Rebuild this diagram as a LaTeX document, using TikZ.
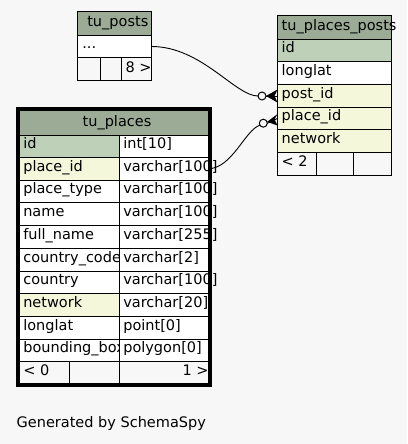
\documentclass[tikz,border=0pt]{standalone}
\usepackage{fontspec}
\setmainfont{DejaVu Sans}
\definecolor{hdr}{HTML}{9BAB96}
\definecolor{pk}{HTML}{BED1B8}
\definecolor{idx}{HTML}{F4F7DA}
\definecolor{bg}{HTML}{F7F7F7}
\tikzset{
  cellbox/.style={rectangle,draw=black,line width=1pt,inner sep=0pt,outer sep=0pt,anchor=north west},
  txt/.style={inner sep=0pt,outer sep=0pt,font=\fontsize{14.5}{17}\selectfont},
  conn/.style={draw=black,line width=0.9pt},
  odot/.style={circle,draw=black,line width=1pt,fill=bg,minimum size=8pt,inner sep=0pt,outer sep=0pt},
}
\newcommand\plrow[6]{%
  \node[cellbox,fill=#6,minimum width=100pt,minimum height=#3pt] (pl-#1-a) at (19.5,#2) {};
  \node[txt,anchor=base west] (pl-#1-at) at (23.3,#2+#3-9) {#4};
  \node[cellbox,fill=white,minimum width=88.5pt,minimum height=#3pt] (pl-#1-b) at (119.5,#2) {};
  \node[txt,anchor=base west] (pl-#1-bt) at (123.3,#2+#3-9) {#5};
}
\begin{document}
\begin{tikzpicture}[x=1pt,y=-1pt]
\fill[bg] (0,0) rectangle (407,444);
\useasboundingbox (0,0) rectangle (407,444);

% ---------- tu_posts ----------
\node[cellbox,fill=hdr,minimum width=74pt,minimum height=24pt] (po-h) at (77.5,11.5) {};
\node[txt,anchor=base] (po-ht) at (117.8,26.7) {tu\_posts};
\node[cellbox,fill=white,minimum width=74pt,minimum height=22pt] (po-dots) at (77.5,35.5) {};
\node[txt,anchor=base west] (po-dotst) at (82.3,48.3) {...};
\node[cellbox,minimum width=23pt,minimum height=23pt] (po-f1) at (77.5,57.5) {};
\node[cellbox,minimum width=21pt,minimum height=23pt] (po-f2) at (100.5,57.5) {};
\node[cellbox,minimum width=30pt,minimum height=23pt] (po-f3) at (121.5,57.5) {};
\node[txt,anchor=base west] (po-f3t) at (125.5,72) {8 >};

% ---------- tu_places_posts ----------
\node[cellbox,fill=hdr,minimum width=114pt,minimum height=24pt] (pp-h) at (277.5,15.5) {};
\node[txt,anchor=base west] (pp-ht) at (281.7,30.5) {tu\_places\_posts};
\node[cellbox,fill=pk,minimum width=114pt,minimum height=22pt] (pp-id) at (277.5,39.5) {};
\node[txt,anchor=base west] (pp-idt) at (281.7,52.5) {id};
\node[cellbox,fill=white,minimum width=114pt,minimum height=23pt] (pp-ll) at (277.5,61.5) {};
\node[txt,anchor=base west] (pp-llt) at (281.7,75.5) {longlat};
\node[cellbox,fill=idx,minimum width=114pt,minimum height=23pt] (pp-post) at (277.5,84.5) {};
\node[txt,anchor=base west] (pp-postt) at (281.7,98.5) {post\_id};
\node[cellbox,fill=idx,minimum width=114pt,minimum height=22pt] (pp-place) at (277.5,107.5) {};
\node[txt,anchor=base west] (pp-placet) at (281.7,120.5) {place\_id};
\node[cellbox,fill=idx,minimum width=114pt,minimum height=23pt] (pp-net) at (277.5,129.5) {};
\node[txt,anchor=base west] (pp-nett) at (281.7,143.5) {network};
\node[cellbox,minimum width=39pt,minimum height=22.5pt] (pp-f1) at (277.5,152.5) {};
\node[cellbox,minimum width=37pt,minimum height=22.5pt] (pp-f2) at (316.5,152.5) {};
\node[cellbox,minimum width=38pt,minimum height=22.5pt] (pp-f3) at (353.5,152.5) {};
\node[txt,anchor=base west] (pp-f1t) at (281.7,166.5) {< 2};

% ---------- tu_places ----------
\node[cellbox,fill=hdr,minimum width=188.5pt,minimum height=25pt] (pl-h) at (19.5,110.5) {};
\node[txt,anchor=base] (pl-ht) at (117,126.5) {tu\_places};
\plrow{id}{135.5}{22}{id}{int[10]}{pk}
\plrow{pid}{157.5}{22.5}{place\_id}{varchar[100]}{idx}
\plrow{ptype}{180}{22.5}{place\_type}{varchar[100]}{white}
\plrow{name}{202.5}{23}{name}{varchar[100]}{white}
\plrow{full}{225.5}{22.5}{full\_name}{varchar[255]}{white}
\plrow{cc}{248}{23.5}{country\_code}{varchar[2]}{white}
\plrow{country}{271.5}{22}{country}{varchar[100]}{white}
\plrow{net}{293.5}{23}{network}{varchar[20]}{idx}
\plrow{ll}{316.5}{22.5}{longlat}{point[0]}{white}
\plrow{bb}{339}{22.5}{bounding\_box}{polygon[0]}{white}
\node[cellbox,minimum width=50pt,minimum height=22pt] (pl-f1) at (19.5,361.5) {};
\node[cellbox,minimum width=50pt,minimum height=22pt] (pl-f2) at (69.5,361.5) {};
\node[cellbox,minimum width=88.5pt,minimum height=22pt] (pl-f3) at (119.5,361.5) {};
\node[txt,anchor=base west] (pl-f1t) at (23.3,375) {< 0};
\node[txt,anchor=base east] (pl-f3t) at (208.5,375) {1 >};

% ---------- connectors ----------
\node[odot] (c1) at (262,96) {};
\node[odot] (c2) at (263.3,123.2) {};
\draw[conn] (po-dots.east) .. controls (201.6,46.5) and (235.2,96) .. (c1.west);
\draw[conn] (c1.east) -- (pp-post.west);
\fill[black] (c1.east) -- (277.5,89.5) -- (274.5,96) -- (277.5,102.5) -- cycle;
\draw[conn] (pl-pid-b.east) .. controls (232,168.75) and (245,130) .. (c2.210);
\draw[conn] (c2.east) -- (pp-place.west);
\fill[black] (c2.20) -- (277.5,114) -- (274.5,119.5) -- (277.5,125.5) -- cycle;

% ---------- frame ----------
\draw[line width=2.8pt] (17.3,108.3) rectangle (210.5,385.8);

\node[txt,anchor=base west] (gen) at (16.7,427.3) {Generated by SchemaSpy};
\end{tikzpicture}
\end{document}
